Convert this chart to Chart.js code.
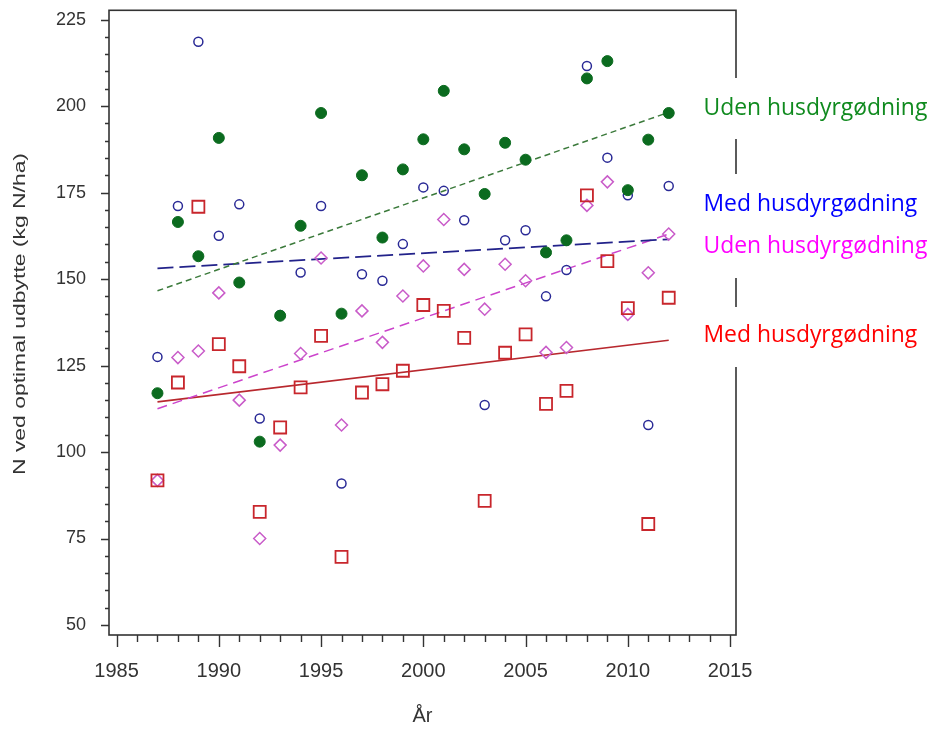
<!DOCTYPE html>
<html>
<head>
<meta charset="utf-8">
<script src="https://cdn.jsdelivr.net/npm/chart.js"></script>
<style>
  body { margin: 0; background: #fff; }
  canvas { display: block; }
</style>
</head>
<body>
<canvas id="nChart" width="930" height="729"></canvas>
<script>
// År
var years = [1987, 1988, 1989, 1990, 1991, 1992, 1993, 1994, 1995, 1996, 1997, 1998, 1999,
             2000, 2001, 2002, 2003, 2004, 2005, 2006, 2007, 2008, 2009, 2010, 2011, 2012];

// N ved optimal udbytte (kg N/ha)
var udenGroen = [117, 166.5, 156.6, 190.8, 149, 103, 139.4, 165.4, 198, 140, 180, 162, 181.7,
                 190.4, 204.4, 187.5, 174.6, 189.4, 184.5, 157.7, 161.2, 208, 213, 175.7, 190.3, 198];
var medBlaa = [127.5, 171.1, 218.6, 162.5, 171.6, 109.7, 139.6, 151.9, 171.1, 90.9, 151.4, 149.5, 160.1,
               176.5, 175.5, 167, 113.6, 161.2, 164.1, 145, 152.6, 211.6, 185.1, 174.2, 107.8, 176.9];
var udenLilla = [91.8, 127.3, 129.2, 146, 115, 75, 102, 128.5, 156.1, 107.8, 140.8, 131.7, 145.1,
                 153.8, 167.2, 152.8, 141.3, 154.3, 149.5, 128.8, 130.2, 171.3, 178.1, 139.8, 151.8, 163];
var medRoed = [91.8, 120.1, 170.9, 131.2, 124.8, 82.7, 107.1, 118.7, 133.6, 69.7, 117.2, 119.6, 123.5,
               142.5, 140.8, 133, 85.9, 128.7, 134, 113.9, 117.7, 174.2, 155.2, 141.6, 79.2, 144.6];

// Tendenslinjer: værdi i første og sidste år
var trendAar = [1987, 2012];
var trendUdenGroen = [146.6, 198.2];
var trendMedBlaa = [153.1, 161.5];
var trendUdenLilla = [112.5, 163];
var trendMedRoed = [114.5, 132.3];

// Akser
var xTickLabels = [1985, 1990, 1995, 2000, 2005, 2010, 2015];
var yTickLabels = [50, 75, 100, 125, 150, 175, 200, 225];
var xMinorStep = 1;
var yMinorStep = 5;

var yTitle = 'N ved optimal udbytte (kg N/ha)';
var xTitle = 'År';
var tekstLabels = [
    { text: 'Uden husdyrgødning', color: '#0f8a1e', base: 115 },
    { text: 'Med husdyrgødning', color: '#0000ff', base: 211 },
    { text: 'Uden husdyrgødning', color: '#ff00ff', base: 253 },
    { text: 'Med husdyrgødning', color: '#ff0000', base: 342 }
];

function punkter(xs, ys) {
    return xs.map(function (x, i) { return { x: x, y: ys[i] }; });
}

var axisFont = '"Liberation Sans", Arial, sans-serif';

// rammen, tick-streger, y-titel og teksterne til højre
var rammePlugin = {
    id: 'ramme',
    afterDraw: function (chart) {
        var ctx = chart.ctx;
        var a = chart.chartArea;
        var xs = chart.scales.x;
        var ys = chart.scales.y;
        ctx.save();
        ctx.strokeStyle = '#333';
        ctx.lineWidth = 1.6;
        ctx.strokeRect(a.left, a.top, a.right - a.left, a.bottom - a.top);

        ctx.lineWidth = 1.4;
        ctx.beginPath();
        var v, p, len;
        for (v = yTickLabels[0]; v <= yTickLabels[yTickLabels.length - 1]; v += yMinorStep) {
            p = Math.round(ys.getPixelForValue(v)) + 0.5;
            len = yTickLabels.indexOf(v) >= 0 ? 8 : 4;
            ctx.moveTo(a.left, p);
            ctx.lineTo(a.left - len, p);
        }
        for (v = xTickLabels[0]; v <= xTickLabels[xTickLabels.length - 1]; v += xMinorStep) {
            p = Math.round(xs.getPixelForValue(v)) + 0.5;
            len = xTickLabels.indexOf(v) >= 0 ? 12 : 7;
            ctx.moveTo(p, a.bottom);
            ctx.lineTo(p, a.bottom + len);
        }
        ctx.stroke();

        // y-aksens titel
        ctx.save();
        ctx.translate(21, 314);
        ctx.rotate(-Math.PI / 2);
        ctx.font = '16px ' + axisFont;
        var w = ctx.measureText(yTitle).width;
        ctx.scale(322 / w, 1);
        ctx.fillStyle = '#333';
        ctx.textAlign = 'center';
        ctx.textBaseline = 'middle';
        ctx.fillText(yTitle, 0, 0);
        ctx.restore();

        // hvide felter over rammen + tekst
        ctx.fillStyle = '#fff';
        ctx.fillRect(690, 78, 240, 61);
        ctx.fillRect(690, 174, 240, 104);
        ctx.fillRect(690, 307, 240, 60);

        ctx.font = '20px "Open Sans", sans-serif';
        var tw = ctx.measureText(tekstLabels[0].text).width;
        var size = 20 * 224 / tw;
        ctx.font = size.toFixed(1) + 'px "Open Sans", sans-serif';
        ctx.textAlign = 'left';
        ctx.textBaseline = 'alphabetic';
        tekstLabels.forEach(function (t) {
            ctx.fillStyle = t.color;
            ctx.fillText(t.text, 703.5, t.base);
        });
        ctx.restore();
    }
};

var ctx = document.getElementById('nChart');
new Chart(ctx, {
    type: 'scatter',
    data: {
        datasets: [
            {
                label: 'Uden husdyrgødning',
                data: punkter(years, udenGroen),
                pointStyle: 'circle',
                pointRadius: 5.5,
                backgroundColor: '#0b6b1f',
                borderColor: '#0b6b1f',
                borderWidth: 1,
                order: 1
            },
            {
                label: 'Med husdyrgødning',
                data: punkter(years, medRoed),
                pointStyle: 'rect',
                pointRadius: 8.5,
                backgroundColor: 'rgba(0,0,0,0)',
                borderColor: '#c8262c',
                borderWidth: 1.8,
                order: 2
            },
            {
                label: 'Med husdyrgødning',
                data: punkter(years, medBlaa),
                pointStyle: 'circle',
                pointRadius: 4.5,
                backgroundColor: 'rgba(0,0,0,0)',
                borderColor: '#2a2a96',
                borderWidth: 1.5,
                order: 3
            },
            {
                label: 'Uden husdyrgødning',
                data: punkter(years, udenLilla),
                pointStyle: 'rectRot',
                pointRadius: 6,
                backgroundColor: 'rgba(0,0,0,0)',
                borderColor: '#c95cc9',
                borderWidth: 1.5,
                order: 4
            },
            {
                data: punkter(trendAar, trendUdenGroen),
                showLine: true,
                pointRadius: 0,
                borderColor: '#3b7a3b',
                borderWidth: 1.5,
                borderDash: [6, 4],
                order: 5
            },
            {
                data: punkter(trendAar, trendMedBlaa),
                showLine: true,
                pointRadius: 0,
                borderColor: '#22228a',
                borderWidth: 1.8,
                borderDash: [16, 6],
                order: 5
            },
            {
                data: punkter(trendAar, trendUdenLilla),
                showLine: true,
                pointRadius: 0,
                borderColor: '#cc44cc',
                borderWidth: 1.5,
                borderDash: [10, 6],
                order: 5
            },
            {
                data: punkter(trendAar, trendMedRoed),
                showLine: true,
                pointRadius: 0,
                borderColor: '#b8282e',
                borderWidth: 1.6,
                order: 5
            }
        ]
    },
    options: {
        responsive: false,
        animation: false,
        layout: { padding: { left: 0, right: 194, top: 10, bottom: 0 } },
        plugins: {
            legend: { display: false },
            tooltip: { enabled: false }
        },
        scales: {
            x: {
                type: 'linear',
                min: 1984.63,
                max: 2015.29,
                afterFit: function (s) { s.height = 94; },
                grid: { display: false },
                border: { display: false },
                ticks: {
                    stepSize: 5,
                    includeBounds: false,
                    padding: 16,
                    color: '#333',
                    font: { family: axisFont, size: 20 },
                    callback: function (v) { return xTickLabels.indexOf(v) >= 0 ? String(v) : ''; }
                },
                title: {
                    display: true,
                    text: xTitle,
                    color: '#333',
                    font: { family: axisFont, size: 20 },
                    padding: { top: 0, bottom: 1 }
                }
            },
            y: {
                min: 47.11,
                max: 227.69,
                afterFit: function (s) {
                    s.width = 109;
                    // tick-padding skal ikke skubbe plotområdet ned
                    s.paddingTop = 0;
                    s.paddingBottom = 0;
                },
                grid: { display: false },
                border: { display: false },
                ticks: {
                    stepSize: 25,
                    includeBounds: false,
                    padding: 15,
                    color: '#333',
                    font: { family: axisFont, size: 18 },
                    callback: function (v) { return yTickLabels.indexOf(v) >= 0 ? String(v) : ''; }
                }
            }
        }
    },
    plugins: [rammePlugin]
});
</script>
</body>
</html>
